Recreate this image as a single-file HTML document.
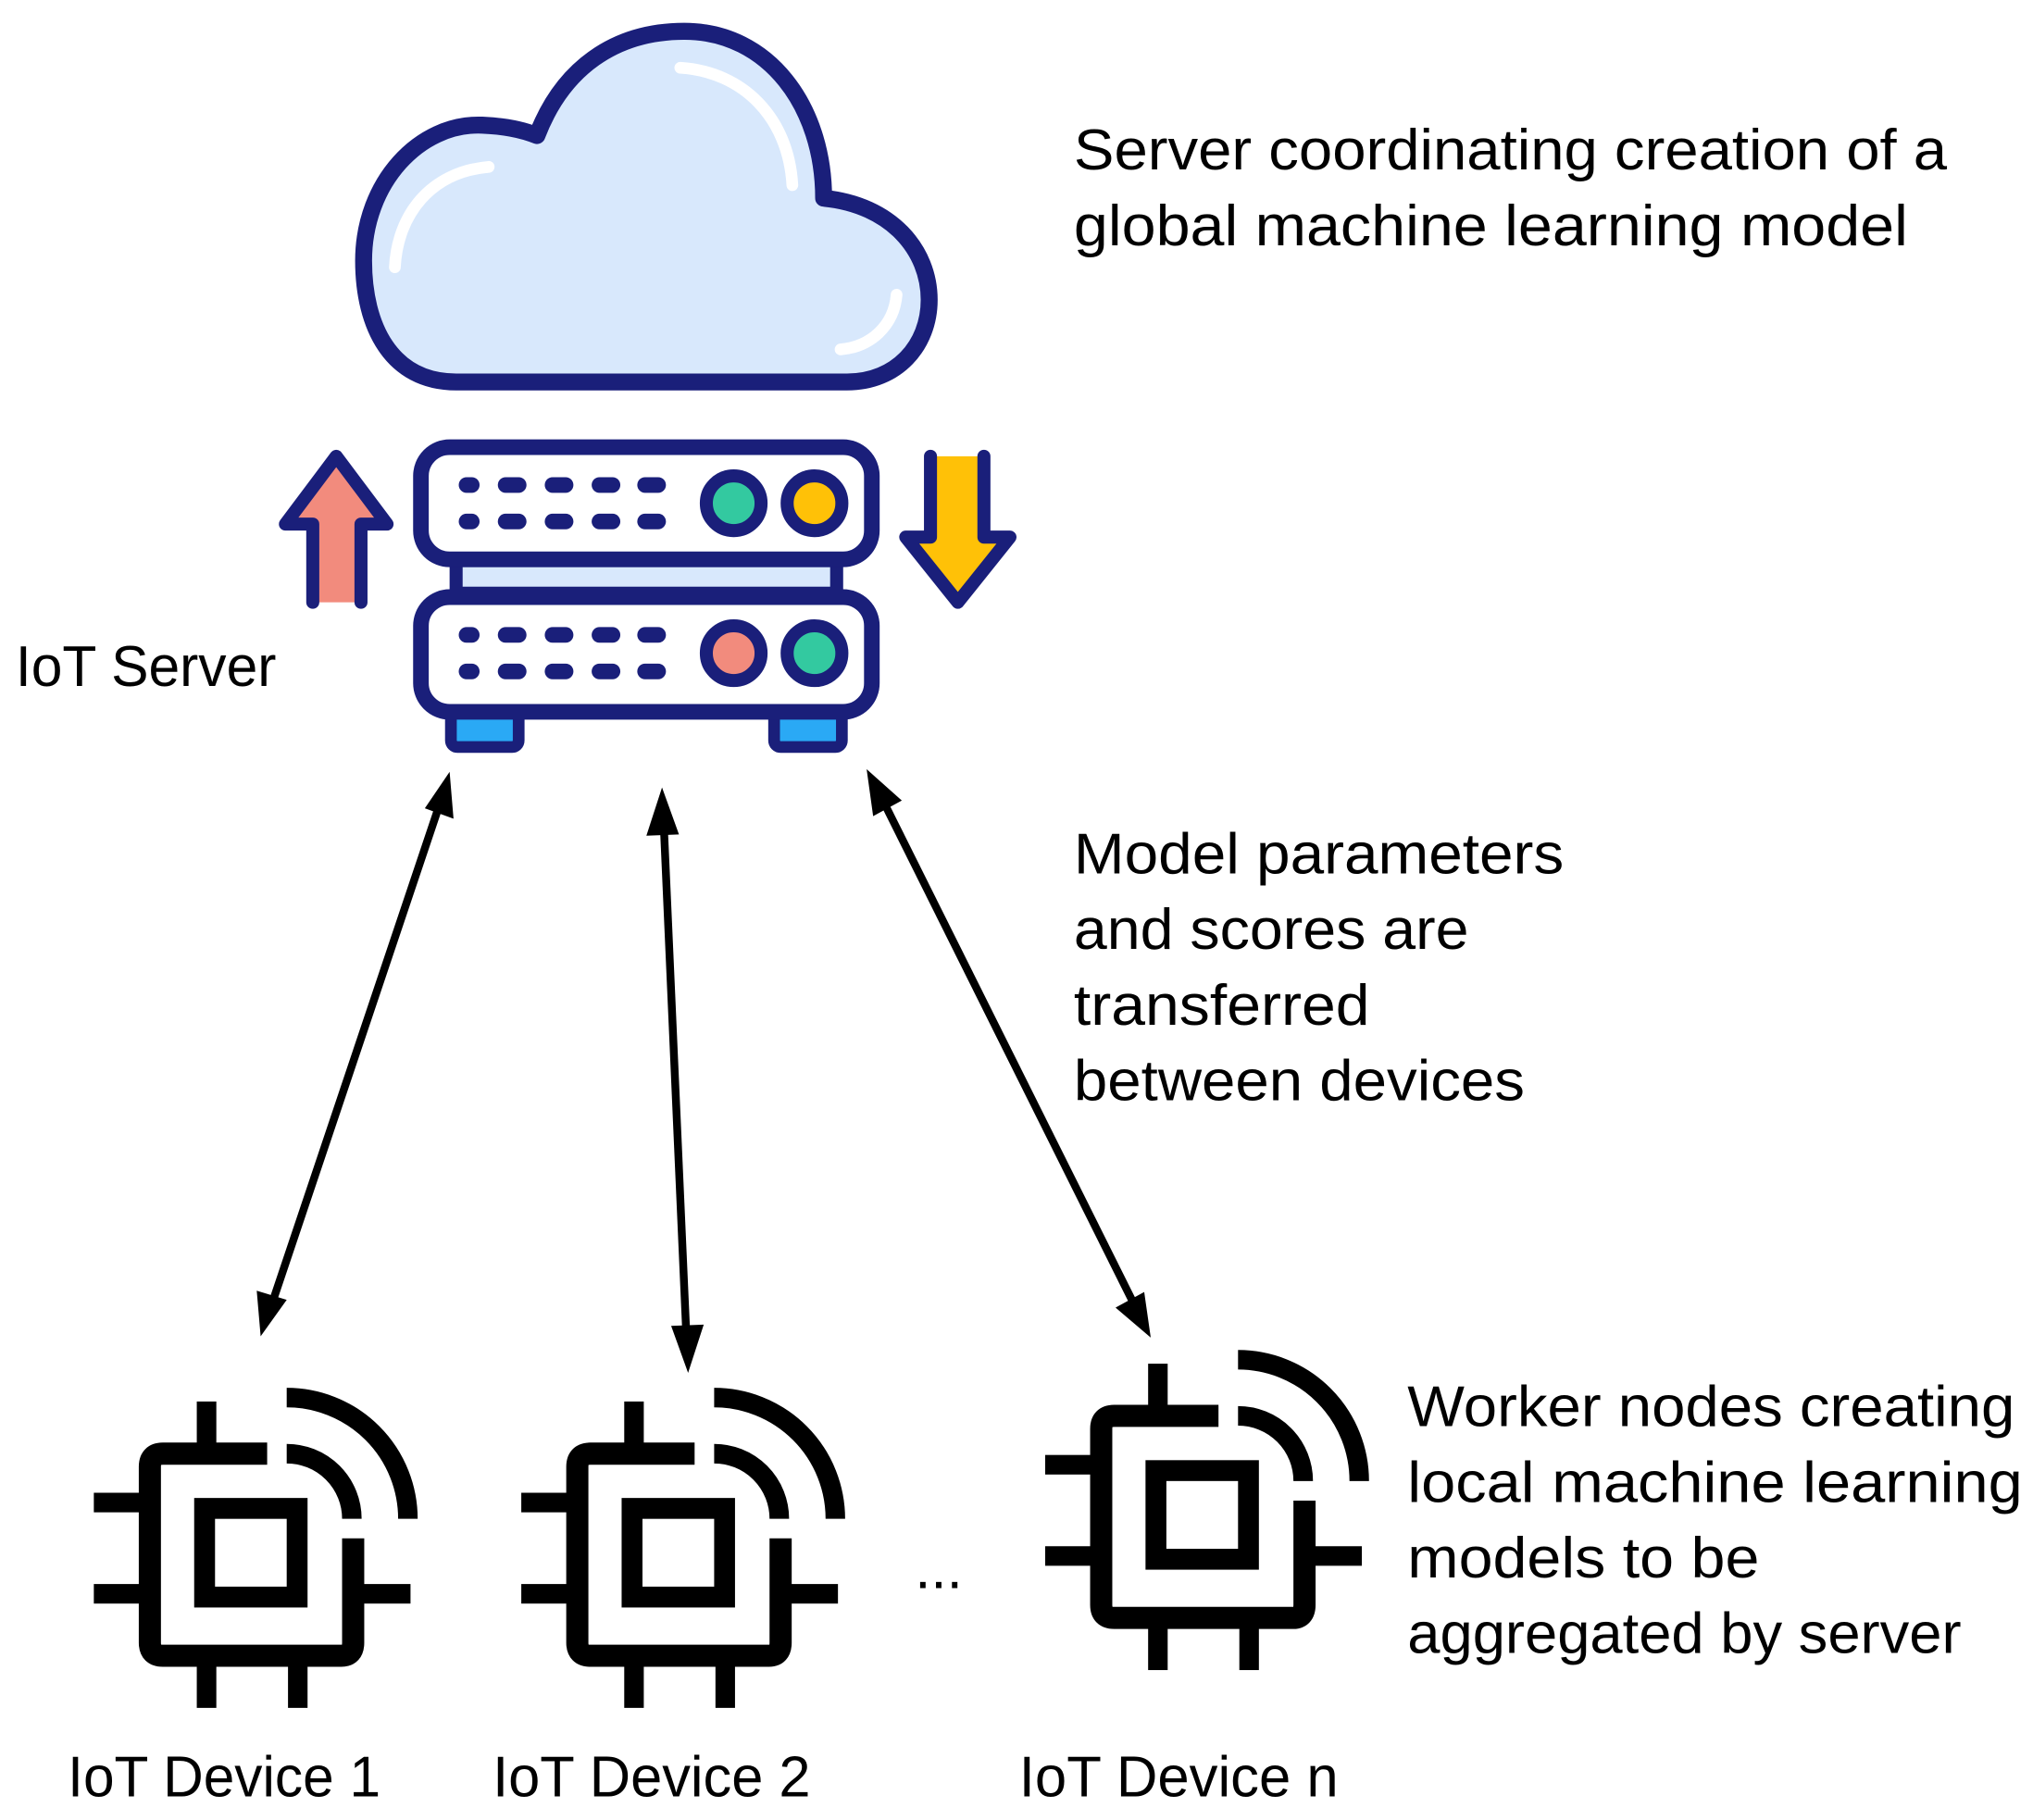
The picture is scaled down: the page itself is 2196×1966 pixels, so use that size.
<!DOCTYPE html>
<html><head><meta charset="utf-8"><style>
html,body{margin:0;padding:0;background:#fff;}
svg{display:block;}
text{font-family:"Liberation Sans",sans-serif;font-size:44px;fill:#000;}
</style></head><body>
<svg width="2196" height="1966" viewBox="0 0 1560 1396" preserveAspectRatio="none" xmlns="http://www.w3.org/2000/svg">
<defs>
<g id="chip">
  <path d="M205 1115 H125 Q115 1115 115 1125 V1260 Q115 1270 125 1270 H262 Q271 1270 271 1260 V1180" fill="none" stroke="#000" stroke-width="17"/>
  <rect x="157" y="1157" width="71" height="68" fill="none" stroke="#000" stroke-width="16"/>
  <rect x="151" y="1075" width="15" height="40" fill="#000"/>
  <rect x="151" y="1270" width="15" height="40" fill="#000"/>
  <rect x="221" y="1270" width="15" height="40" fill="#000"/>
  <rect x="72" y="1145" width="43" height="15" fill="#000"/>
  <rect x="72" y="1215" width="43" height="15" fill="#000"/>
  <rect x="271" y="1215" width="44" height="15" fill="#000"/>
  <path d="M220 1115 A50 50 0 0 1 270 1165" fill="none" stroke="#000" stroke-width="15"/>
  <path d="M220 1072 A93 93 0 0 1 313 1165" fill="none" stroke="#000" stroke-width="15"/>
</g>
</defs>
<path d="M350 293 C300 293 279 250 279 200 C279 140 322 94 370 96 Q395 97 412 104 C432 52 472 24 525 24 C590 24 632 82 632 152 C684 157 713 192 713 230 C713 265 688 293 650 293 Z" fill="#d8e8fc" stroke="#1a1f7a" stroke-width="13" stroke-linejoin="round"/>
<path d="M375 128 C330 132 305 165 303 205" fill="none" stroke="#fff" stroke-width="9" stroke-linecap="round"/>
<path d="M522 52 C570 55 605 90 608 142" fill="none" stroke="#fff" stroke-width="9" stroke-linecap="round"/>
<path d="M688 226 C686 250 668 266 645 268" fill="none" stroke="#fff" stroke-width="9" stroke-linecap="round"/>
<rect x="350" y="430" width="292" height="25" fill="#d8e8fc" stroke="#1a1f7a" stroke-width="10"/>
<rect x="346" y="545" width="52" height="28" rx="5" fill="#2aa9f5" stroke="#1a1f7a" stroke-width="9"/>
<rect x="594" y="545" width="52" height="28" rx="5" fill="#2aa9f5" stroke="#1a1f7a" stroke-width="9"/>
<rect x="323" y="343" width="346" height="86" rx="22" fill="#fff" stroke="#1a1f7a" stroke-width="12"/>
<rect x="323" y="458" width="346" height="88" rx="22" fill="#fff" stroke="#1a1f7a" stroke-width="12"/>
<g fill="#1a1f7a">
<rect x="352" y="366" width="16" height="12" rx="6"/><rect x="382" y="366" width="22" height="12" rx="6"/><rect x="418" y="366" width="22" height="12" rx="6"/><rect x="454" y="366" width="22" height="12" rx="6"/><rect x="489" y="366" width="22" height="12" rx="6"/>
<rect x="352" y="394" width="16" height="12" rx="6"/><rect x="382" y="394" width="22" height="12" rx="6"/><rect x="418" y="394" width="22" height="12" rx="6"/><rect x="454" y="394" width="22" height="12" rx="6"/><rect x="489" y="394" width="22" height="12" rx="6"/>
<rect x="352" y="481" width="16" height="12" rx="6"/><rect x="382" y="481" width="22" height="12" rx="6"/><rect x="418" y="481" width="22" height="12" rx="6"/><rect x="454" y="481" width="22" height="12" rx="6"/><rect x="489" y="481" width="22" height="12" rx="6"/>
<rect x="352" y="509" width="16" height="12" rx="6"/><rect x="382" y="509" width="22" height="12" rx="6"/><rect x="418" y="509" width="22" height="12" rx="6"/><rect x="454" y="509" width="22" height="12" rx="6"/><rect x="489" y="509" width="22" height="12" rx="6"/>
</g>
<circle cx="563" cy="386" r="21" fill="#33c9a0" stroke="#1a1f7a" stroke-width="10"/>
<circle cx="625" cy="386" r="21" fill="#ffc107" stroke="#1a1f7a" stroke-width="10"/>
<circle cx="563" cy="501" r="21" fill="#f28b7d" stroke="#1a1f7a" stroke-width="10"/>
<circle cx="625" cy="501" r="21" fill="#33c9a0" stroke="#1a1f7a" stroke-width="10"/>
<path d="M240 462 V402 H219 L258 350 L297 402 H277 V462" fill="#f28b7d" stroke="#1a1f7a" stroke-width="10" stroke-linejoin="round" stroke-linecap="round"/>
<path d="M714 350 V412 H695 L735 462 L775 412 H755 V350" fill="#ffc107" stroke="#1a1f7a" stroke-width="10" stroke-linejoin="round" stroke-linecap="round"/>
<g stroke="#000" stroke-width="6">
<line x1="339" y1="612" x2="207" y2="1005"/>
<line x1="509" y1="625" x2="527" y2="1032"/>
<line x1="676" y1="611" x2="873" y2="1006"/>
</g>
<g fill="#000">
<polygon points="345,592 348,628 326,620"/>
<polygon points="200,1025 197,990 220,997"/>
<polygon points="508,604 521,640 496,641"/>
<polygon points="528,1053 515,1017 540,1016"/>
<polygon points="665,590 692,614 670,626"/>
<polygon points="883,1026 856,1003 878,991"/>
</g>
<use href="#chip"/>
<use href="#chip" transform="translate(328,0)"/>
<use href="#chip" transform="translate(730,-29)"/>
<text x="12" y="526" textLength="200" lengthAdjust="spacingAndGlyphs">IoT Server</text>
<text x="824" y="130" textLength="670" lengthAdjust="spacingAndGlyphs">Server coordinating creation of a</text>
<text x="824" y="188" textLength="640" lengthAdjust="spacingAndGlyphs">global machine learning model</text>
<text x="824" y="670" textLength="376" lengthAdjust="spacingAndGlyphs">Model parameters</text>
<text x="824" y="728" textLength="303" lengthAdjust="spacingAndGlyphs">and scores are</text>
<text x="824" y="786" textLength="227" lengthAdjust="spacingAndGlyphs">transferred</text>
<text x="824" y="844" textLength="346" lengthAdjust="spacingAndGlyphs">between devices</text>
<text x="1080" y="1094" textLength="466" lengthAdjust="spacingAndGlyphs">Worker nodes creating</text>
<text x="1080" y="1152" textLength="472" lengthAdjust="spacingAndGlyphs">local machine learning</text>
<text x="1080" y="1210" textLength="270" lengthAdjust="spacingAndGlyphs">models to be</text>
<text x="1080" y="1268" textLength="425" lengthAdjust="spacingAndGlyphs">aggregated by server</text>
<text x="52" y="1378" textLength="240" lengthAdjust="spacingAndGlyphs">IoT Device 1</text>
<text x="378" y="1378" textLength="244" lengthAdjust="spacingAndGlyphs">IoT Device 2</text>
<text x="782" y="1378" textLength="245" lengthAdjust="spacingAndGlyphs">IoT Device n</text>
<text x="702" y="1218">...</text>
</svg>
</body></html>
